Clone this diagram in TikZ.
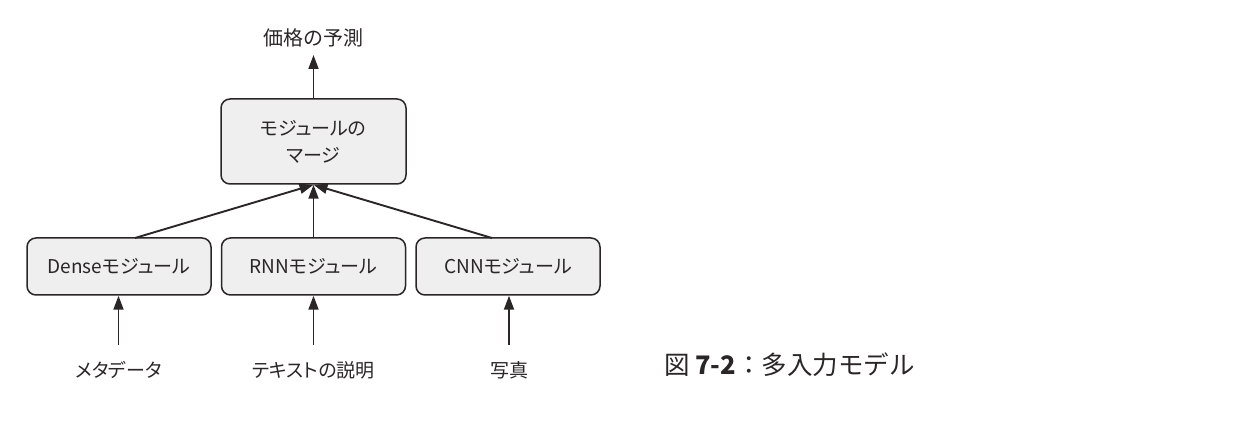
\documentclass[tikz,border=0pt]{standalone}
\usepackage{fontspec}
\setmainfont[RawFeature=+palt]{Noto Sans CJK JP}
\newfontfamily\capfont{Noto Sans CJK JP}
\usetikzlibrary{arrows.meta}
\definecolor{ink}{HTML}{2A2626}
\definecolor{boxfill}{HTML}{EFEFEF}
\begin{document}
\begin{tikzpicture}[x=1pt,y=1pt,
  modbox/.style={draw=ink,fill=boxfill,line width=1.5pt,rounded corners=9pt,
    minimum width=184pt,minimum height=57pt,inner sep=0pt,text=ink,
    font=\fontsize{19}{27}\selectfont,align=center},
  lbl/.style={text=ink,font=\fontsize{19}{22}\selectfont,inner sep=0pt},
  arr/.style={draw=ink,line width=1.9pt,-{Triangle[length=14pt,width=10pt]}}]
\useasboundingbox (0,0) rectangle (1260,422);
\node[modbox,minimum width=185pt,minimum height=85pt] (merge) at (313.5,280.5) {モジュールの\\マージ};
\node[modbox] (dense) at (119,155.5) {Denseモジュール};
\node[modbox] (rnn) at (313.5,155.5) {RNNモジュール};
\node[modbox] (cnn) at (508,155.5) {CNNモジュール};
\node[lbl,font=\fontsize{20}{22}\selectfont] (price) at (313.5,384) {価格の予測};
\node[lbl] (meta) at (118.5,52) {メタデータ};
\node[lbl] (text) at (313.5,52) {テキストの説明};
\node[lbl] (photo) at (509,52) {写真};
\node[text=ink,font=\capfont\fontsize{25.5}{28}\selectfont,anchor=west,inner sep=0pt] (cap) at (664,57) {図 \textbf{7-2}：多入力モデル};
\coordinate (pt) at (313.5,367);
\coordinate (m1) at (118.5,77);
\coordinate (m2) at (313.5,77);
\coordinate (m3) at (509,77);
\coordinate (dtop) at (135,184);
\coordinate (ctop) at (492,184);
\draw[arr] (merge.north) -- (pt);
\draw[arr] (dtop) -- (merge.south);
\draw[arr] (rnn.north) -- (merge.south);
\draw[arr] (ctop) -- (merge.south);
\draw[arr] (m1) -- (m1 |- dense.south);
\draw[arr] (m2) -- (rnn.south);
\draw[arr] (m3) -- (m3 |- cnn.south);
\end{tikzpicture}
\end{document}
